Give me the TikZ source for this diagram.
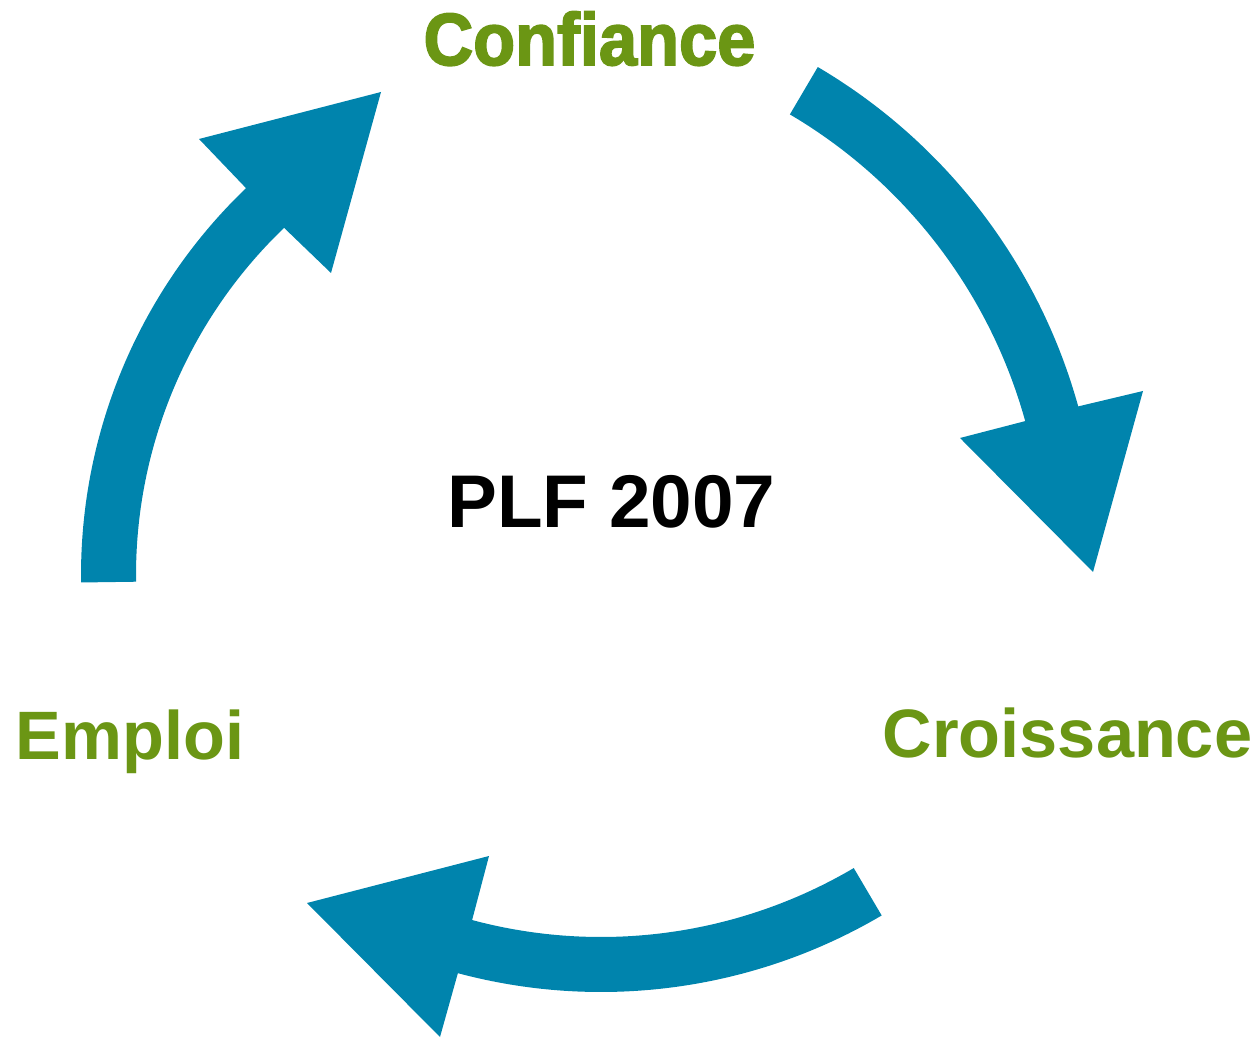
\documentclass[tikz,border=0pt]{standalone}
\usepackage{fontspec}
\setmainfont{Liberation Sans}
\newfontfamily\heavyfont{Liberation Sans}[FakeBold=2.5]
\definecolor{cyclegreen}{RGB}{107,150,20}
\definecolor{cycleblue}{RGB}{0,132,173}
\tikzset{steptext/.style={text=cyclegreen, anchor=base, inner sep=0pt,
                          font=\bfseries\fontsize{39}{41}\selectfont}}

\begin{document}
\begin{tikzpicture}[x=0.02cm, y=0.02cm]
  \useasboundingbox (0,0) rectangle (1260,1038);
  % three curved arrows: centre, start/end angle, inner/outer radius, head
  \foreach \cx/\cy/\a/\b/\ri/\ro/\p/\q/\r in {
      528/479/59.5/15.5/516/571/{(960,600)}/{(1093,466)}/{(1143,647)},
      601/599/-59.5/-105/498/553/{(489,182)}/{(307,135)}/{(440,1)},
      617/463/180.8/133.8/481/536/{(331,765)}/{(381,946)}/{(199,899)}}
  \fill[cycleblue] ([shift={(\cx,\cy)}]\a:\ri) arc[start angle=\a, end angle=\b, radius=\ri]
     -- \p -- \q -- \r -- ([shift={(\cx,\cy)}]\b:\ro) arc[start angle=\b, end angle=\a, radius=\ro] -- cycle;
  \node[steptext, xscale=0.93, font=\heavyfont\bfseries\fontsize{42}{44}\selectfont] (confiance) at (589.5, 973) {Confiance};
  \node[steptext] (croissance) at (1067.5, 280) {Croissance};
  \node[steptext] (emploi) at (130, 278) {Emploi};
  \node[anchor=base, inner sep=0pt, font=\bfseries\fontsize{42.5}{44}\selectfont] (plf) at (611.5, 510) {PLF 2007};
\end{tikzpicture}
\end{document}
